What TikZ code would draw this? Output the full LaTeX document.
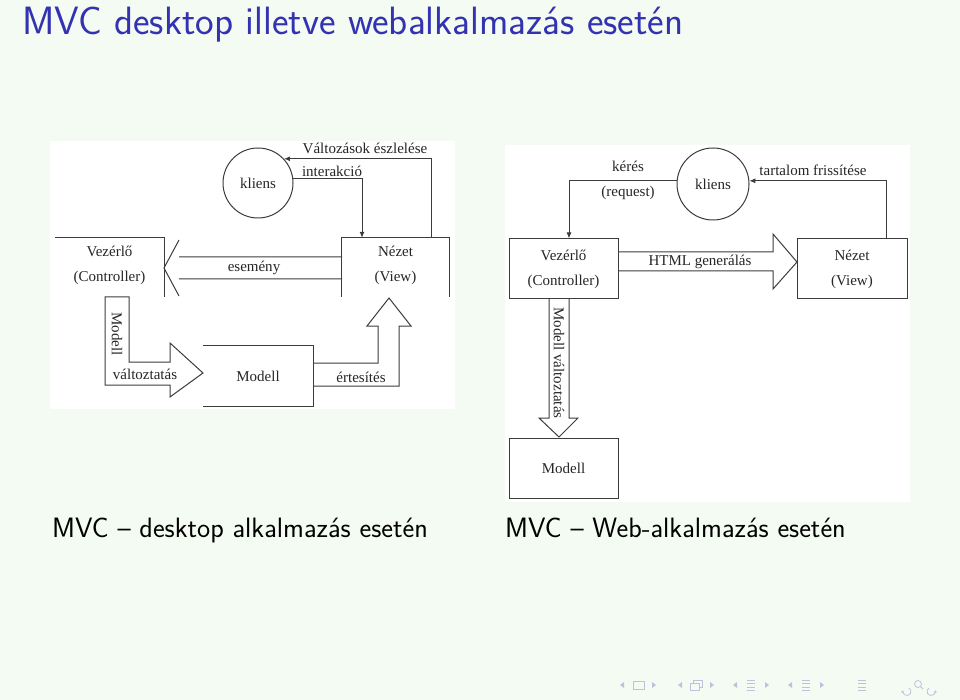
\documentclass[tikz,border=0pt]{standalone}
\usepackage{fontspec}
\newfontfamily\imgfont{Liberation Serif}
\usetikzlibrary{arrows.meta, positioning}
\definecolor{slidebg}{RGB}{244,251,242}
\definecolor{titleblue}{RGB}{51,51,178}
\definecolor{navgray}{RGB}{190,194,220}
\definecolor{linegray}{RGB}{60,60,60}

\begin{document}
\begin{tikzpicture}[x = 1pt, y = -1pt,
    every node/.style = { inner sep = 0pt, text = black!85 },
    lbl/.style = { font = \imgfont\fontsize{15}{25}\selectfont, align = center },
    box/.style = { lbl, minimum width = 109pt, minimum height = 59pt },
    ring/.style = { lbl, draw = linegray, circle, line width = 1pt },
    line/.style = { draw = linegray, line width = 1pt },
    tip/.style = { line, -{Latex[length = 6pt, width = 5pt]} },
    captext/.style = { anchor = base west, text = black, font = \fontsize{28}{32}\selectfont\sffamily }]

    \fill[slidebg] (0,0) rectangle (960,700);
    \useasboundingbox (0,0) rectangle (960,700);
    \node[anchor = base west, text = titleblue, font = \fontsize{39.5}{44}\selectfont\sffamily] (title) at (22,35) {MVC desktop illetve webalkalmazás esetén};

    % desktop
    \fill[white] (50,141) rectangle (455,409);
    \node[ring, minimum size = 70pt] (kliL) at (258,183) {kliens};
    \node[box] (vezL) at (109.5,265.5) {Vezérlő\\(Controller)};
    \node[box, minimum width = 107pt] (nezL) at (395.5,265.5) {Nézet\\(View)};
    \node[box, minimum width = 110pt, minimum height = 60pt] (modL) at (258,376) {Modell};
    \draw[line] ([yshift = -2pt]vezL.north west) -- ([yshift = -2pt]vezL.north east) -- ([yshift = -2pt]vezL.south east);
    \draw[line] ([yshift = -2pt]nezL.south west) |- ([yshift = -2pt]nezL.north east) -- ([yshift = -2pt]nezL.south east);
    \draw[line] (modL.north west) -| (modL.south east) -- (modL.south west);

    \draw[tip] ([xshift = -18pt, yshift = -2pt]nezL.north east) |- (kliL.43);
    \draw[tip] (kliL.7) -| ([xshift = -33.5pt, yshift = -2pt]nezL.north);
    \node[lbl, anchor = base] (valt) at (365,154) {Változások észlelése};
    \node[lbl, anchor = base] (inter) at (332,177) {interakció};

    \draw[line] (342,257) -- (179,257) (179,240) -- (164,268) -- (179,296) (179,279) -- (342,279);
    \node[lbl] (esem) at (254,268) {esemény};

    \draw[line] (105,297) -- (129,297) -- (129,362) -- (170,362) -- (170,343) -- (203,373) -- (170,397) -- (170,385) -- (105,385) -- cycle;
    \node[lbl, rotate = -90] (mvL) at (117,334) {Modell};
    \node[lbl] (vtL) at (145,374) {változtatás};

    \draw[line] (313,363) -- (378,363) -- (378,326) -- (367,326) -- (389,298) -- (411,326) -- (399,326) -- (399,386) -- (313,386);
    \node[lbl] (ert) at (361,377) {értesítés};

    % web
    \fill[white] (505,145) rectangle (910,502);
    \node[ring, minimum size = 72pt] (kliR) at (713,184) {kliens};
    \node[box, line, minimum height = 60pt] (vezR) at (563.5,269) {Vezérlő\\(Controller)};
    \node[box, line, minimum width = 110pt, minimum height = 60pt] (nezR) at (852,269) {Nézet\\(View)};
    \node[box, line, minimum height = 60pt] (modR) at (563.5,468) {Modell};

    \draw[tip] (kliR.174) -| ([xshift = 5.5pt]vezR.north);
    \draw[tip] ([xshift = 34pt]nezR.north) |- (kliR.5);
    \node[lbl] (keres) at (628,180) {kérés\\(request)};
    \node[lbl] (tart) at (813,170) {tartalom frissítése};

    \draw[line] (618,252) -- (773,252) -- (773,234) -- (797,262) -- (773,289) -- (773,271) -- (618,271);
    \node[lbl] (html) at (700,262) {HTML generálás};

    \draw[line] (549,299) -- (549,418) -- (539,418) -- (559,437) -- (578,418) -- (569,418) -- (569,299);
    \node[lbl, rotate = -90] (mvR) at (559,363) {Modell változtatás};

    \node[captext] (capL) at (52,537) {MVC -- desktop alkalmazás esetén};
    \node[captext] (capR) at (505,537) {MVC -- Web-alkalmazás esetén};

    % navigation
    \foreach \cx in {638, 696, 751, 806} {
      \fill[navgray] (\cx-18,685) -- (\cx-14,682) -- (\cx-14,688) -- cycle;
      \fill[navgray] (\cx+18,685) -- (\cx+14,682) -- (\cx+14,688) -- cycle;
    }
    \draw[navgray, line width = .8pt] (633,681) rectangle (644,689);
    \draw[navgray, line width = .8pt] (690,683) rectangle (699,690) (693,683) -- (693,680) -- (702,680) -- (702,687) -- (699,687);
    \foreach \cx in {751, 806, 862} {
      \draw[navgray, line width = .8pt] (\cx-4,680) -- (\cx+4,680) (\cx-4,683.5) -- (\cx+4,683.5) (\cx-4,687) -- (\cx+4,687) (\cx-4,690) -- (\cx+4,690);
    }
    \draw[navgray, line width = .8pt, -{Latex[length = 2.5pt, width = 3pt]}] (909,688) arc (-60:200:4);
    \draw[navgray, line width = .8pt] (918,684) circle (3.5) (920.5,686.5) -- (923,689);
    \draw[navgray, line width = .8pt, -{Latex[length = 2.5pt, width = 3pt]}] (929,688) arc (240:-20:4);
\end{tikzpicture}
\end{document}
